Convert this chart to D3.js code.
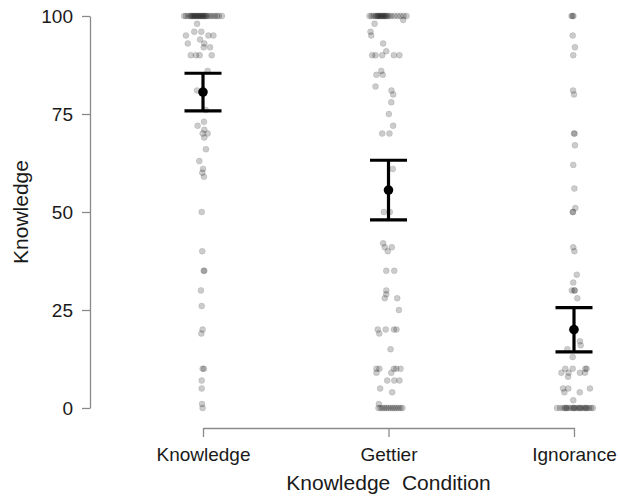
<!DOCTYPE html>
<html>
<head>
<meta charset="utf-8">
<script src="https://cdn.jsdelivr.net/npm/d3@7/dist/d3.min.js"></script>
<style>
  body { margin: 0; background: #fff; }
  svg { display: block; font-family: "Liberation Sans", Arial, sans-serif; }
</style>
</head>
<body>
<div id="chart"></div>
<script>
// Dados
const categories = ['Knowledge', 'Gettier', 'Ignorance'];
const yTicks = [0, 25, 50, 75, 100];
const means = [80.6, 55.6, 20.0];
const ciLower = [75.8, 48.0, 14.3];
const ciUpper = [85.4, 63.2, 25.6];

// [valor, jitter em % do espaçamento entre condições]
const knowledgePoints = [
  [100, -10.2], [100, -9.2], [100, -8.1], [100, -7.0], [100, -6.5], [100, -5.9], [100, -5.4],
  [100, -4.9], [100, -4.3], [100, -3.8], [100, -3.2], [100, -2.7], [100, -2.2], [100, -1.6],
  [100, -1.1], [100, -0.5], [100, 0], [100, 0.5], [100, 1.1], [100, 1.6], [100, 2.2],
  [100, 3.2], [100, 4.3], [100, 5.4], [100, 6.5], [100, 7.5], [100, 8.6], [100, 10.2],
  [98, -3.2], [96, -4.7], [96, -0.9], [95, -9.2], [95, 2.9], [95, 5.6], [94, -1.6],
  [93, -8.2], [93, 0.7], [92, 0.4], [92, 3.8], [90, -6.6], [90, -3.8], [90, -1.8], [90, 4.7],
  [86, 2.5], [81, -3.2], [76, 1.5], [73, 0.5], [72, -2.9], [71, 0.7], [70, -0.2], [70, 2.5],
  [69, 0.7], [66, 1.6], [63, -2.0], [61, 0], [60, -0.4], [59, 0.5], [50, -0.7], [40, -0.4],
  [35, 0.4], [35, 0.7], [30, -1.1], [26, -0.7], [20, -0.2], [19, -0.9], [10, -0.2], [10, 0.5],
  [7, -0.7], [5, -0.7], [1, -0.5], [0, -0.2]
];

const gettierPoints = [
  [100, -10.2], [100, -9.2], [100, -8.1], [100, -7.0], [100, -6.5], [100, -5.9], [100, -5.4],
  [100, -4.9], [100, -4.3], [100, -3.8], [100, -3.2], [100, -2.7], [100, -2.2], [100, -1.6],
  [100, -1.1], [100, -0.5], [100, 0.5], [100, 1.6], [100, 3.2], [100, 4.9], [100, 6.5],
  [100, 8.1], [100, 9.7],
  [99, 7.9], [98, -7.5], [96, -9.7], [95, -9.3], [93, -2.9], [91, -1.2],
  [90, -8.8], [90, -7.0], [90, -3.4], [90, 2.9], [90, 5.9], [86, -3.9], [85, -6.5], [85, -3.1],
  [82, -7.0], [81, 1.6], [80, 2.5], [78, 1.5], [75, 0.2], [72, 2.5], [70, -3.4], [70, 0.5],
  [61, 2.3], [50, -2.5], [50, 0.7], [42, -2.9], [41, -2.0], [41, 1.8], [40, -0.4],
  [35, -1.2], [35, 3.1], [30, -1.2], [29, -1.2], [28, -2.0], [28, 4.7], [25, 5.6],
  [20, -5.8], [20, -1.5], [20, 2.9], [20, 4.3], [19, -5.0], [15, 1.1],
  [10, -6.5], [10, -4.9], [10, 2.9], [10, 4.2], [10, 6.5], [9, -6.5], [9, 1.5],
  [7, -0.7], [7, 3.1], [7, 5.9], [5, -4.5], [4, 2.0], [1, -5.2],
  [0, -5.4], [0, -4.3], [0, -3.2], [0, -2.2], [0, -1.1], [0, 0], [0, 1.1], [0, 2.2],
  [0, 3.2], [0, 4.3], [0, 5.4], [0, 6.5], [0, 7.5]
];

const ignorancePoints = [
  [100, -1.3], [100, -0.8], [100, -0.3], [95, -0.7], [92, 0.5], [90, -0.4], [81, -0.5],
  [80, 0], [70, 0], [70, 0.3], [67, 0.5], [62, -0.4], [56, 0.2], [51, 0.7], [50, -0.7],
  [50, -0.5], [41, -0.4], [40, 0.2], [34, 1.5], [32, -0.4], [30, -1.2], [30, 0.2], [30, 0.4],
  [28, 1.8], [20, -1.1], [20, 0.4], [17, 3.2], [16, 3.6], [15, -3.6], [13, -0.7],
  [10, -4.7], [10, -0.7], [10, 6.1], [10, 6.8], [9, -6.8], [9, -2.9], [9, 3.2], [9, 5.9],
  [8, -3.2], [5, -5.9], [5, -3.1], [5, 8.6], [4, -5.2], [4, 3.1], [2, -0.4],
  [0, -9.2], [0, -7.5], [0, -5.9], [0, -4.9], [0, -4.3], [0, -3.8], [0, -2.7], [0, -1.6],
  [0, -0.5], [0, 0], [0, 0.5], [0, 1.6], [0, 2.7], [0, 3.2], [0, 3.8], [0, 4.9], [0, 5.9],
  [0, 6.5], [0, 7.0], [0, 8.1], [0, 9.2], [0, 10.2]
];

const pointSets = [knowledgePoints, gettierPoints, ignorancePoints];

// Configurações
const width = 618;
const height = 501;

const svg = d3.select('#chart')
  .append('svg')
  .attr('width', width)
  .attr('height', height);

// Escalas
const x = d3.scaleLinear().domain([0, 2]).range([203, 574]);
const y = d3.scaleLinear().domain([0, 100]).range([408, 16]);

// Eixo Y
const yAxis = svg.append('g')
  .attr('transform', 'translate(90,0)')
  .call(d3.axisLeft(y).tickValues(yTicks).tickSize(8).tickSizeOuter(0).tickPadding(9));

// Eixo X
const xAxis = svg.append('g')
  .attr('transform', 'translate(0,428)')
  .call(d3.axisBottom(x).tickValues([0, 1, 2]).tickFormat(i => categories[i])
    .tickSize(9).tickSizeOuter(0).tickPadding(11));

[yAxis, xAxis].forEach(g => {
  g.selectAll('path, line').attr('stroke', '#8a8a8a').attr('stroke-width', 1.3);
  g.selectAll('text').attr('fill', '#1a1a1a').style('font-size', '19px');
});

// Títulos dos eixos
svg.append('text')
  .attr('transform', 'translate(28,212) rotate(-90)')
  .attr('text-anchor', 'middle')
  .attr('fill', '#1a1a1a')
  .style('font-size', '21px')
  .text('Knowledge');

svg.append('text')
  .attr('x', x(1))
  .attr('y', 490)
  .attr('text-anchor', 'middle')
  .attr('fill', '#1a1a1a')
  .style('font-size', '21px')
  .style('white-space', 'pre')
  .text('Knowledge  Condition');

// Pontos com jitter
const pts = [];
pointSets.forEach((set, i) => set.forEach(([v, j]) => pts.push({ cond: i, value: v, jitter: j })));

svg.append('g')
  .selectAll('circle')
  .data(pts)
  .enter()
  .append('circle')
  .attr('cx', d => x(d.cond + d.jitter / 100))
  .attr('cy', d => y(d.value))
  .attr('r', 3)
  .attr('fill', 'rgba(0,0,0,0.2)')
  .attr('stroke', 'rgba(0,0,0,0.12)')
  .attr('stroke-width', 0.8);

// Barras de erro
const summary = categories.map((c, i) => ({ i, mean: means[i], lo: ciLower[i], hi: ciUpper[i] }));
const capHalf = 18.5;

const eb = svg.append('g').selectAll('g')
  .data(summary)
  .enter()
  .append('g')
  .attr('stroke', '#000')
  .attr('stroke-width', 3.2);

eb.append('line')
  .attr('x1', d => x(d.i)).attr('x2', d => x(d.i))
  .attr('y1', d => y(d.lo)).attr('y2', d => y(d.hi));

eb.append('line')
  .attr('x1', d => x(d.i) - capHalf).attr('x2', d => x(d.i) + capHalf)
  .attr('y1', d => y(d.hi)).attr('y2', d => y(d.hi));

eb.append('line')
  .attr('x1', d => x(d.i) - capHalf).attr('x2', d => x(d.i) + capHalf)
  .attr('y1', d => y(d.lo)).attr('y2', d => y(d.lo));

eb.append('circle')
  .attr('cx', d => x(d.i))
  .attr('cy', d => y(d.mean))
  .attr('r', 4.8)
  .attr('fill', '#000')
  .attr('stroke', 'none');
</script>
</body>
</html>
